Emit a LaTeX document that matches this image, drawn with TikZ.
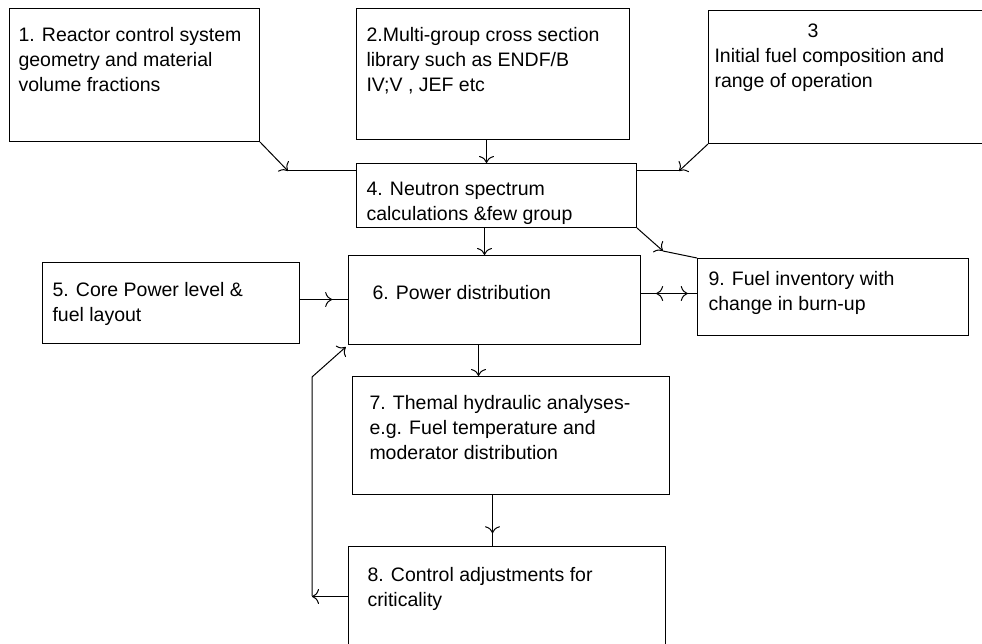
\documentclass[tikz,border=0pt]{standalone}
\usepackage{fontspec}
\setmainfont{Liberation Sans}
\usepackage{tikz}
\usetikzlibrary{arrows.meta,calc,positioning,decorations.markings}

\begin{document}
\begin{tikzpicture}[x=1pt,y=-1pt,line width=1pt,>={To[length=7pt,width=15pt]},
    blk/.style={draw,anchor=north west,inner sep=0pt},
    txt/.style={anchor=north west,inner sep=0pt,align=left,font=\fontsize{19.5}{25}\selectfont},
    midarr/.style={postaction={decorate},decoration={markings,mark=at position #1 with {\arrow{>}}}},
    twoarr/.style={postaction={decorate},decoration={markings,mark=at position 0.29 with {\arrow{<}},mark=at position 0.73 with {\arrow{>}}}}]
    \useasboundingbox (0,0) rectangle (982,644);

    \node[blk,minimum width=250pt,minimum height=133pt] (GEOM) at (9,8) {};
    \node[blk,minimum width=273pt,minimum height=131pt] (XSLIB) at (356,8) {};
    \node[blk,minimum width=276pt,minimum height=133pt] (FUEL) at (708,10) {};
    \node[blk,minimum width=280pt,minimum height=64pt] (SPEC) at (356,163) {};
    \node[blk,minimum width=257pt,minimum height=81pt] (CORE) at (42,262) {};
    \node[blk,minimum width=292pt,minimum height=89pt] (POWER) at (348,255) {};
    \node[blk,minimum width=271pt,minimum height=77pt] (INV) at (697,258) {};
    \node[blk,minimum width=317pt,minimum height=118pt] (THERM) at (352,376) {};
    \node[blk,minimum width=317pt,minimum height=100pt] (CTRL) at (348,546) {};

    \node[txt] (GEOMt) at (18,27) {1. Reactor control system\\geometry and material\\volume fractions};
    \node[txt] (XSLIBt) at (366,27) {2.Multi-group cross section\\library such as ENDF/B\\IV;V , JEF etc};
    \node[txt] (FUELt) at (714,23) {\hspace*{93pt}3\\Initial fuel composition and\\range of operation};
    \node[txt] (SPECt) at (366,182) {4. Neutron spectrum\\calculations \&few group};
    \node[txt] (COREt) at (52,282) {5. Core Power level \&\\fuel layout};
    \node[txt] (POWERt) at (372,285) {6. Power distribution};
    \node[txt] (INVt) at (708,271) {9. Fuel inventory with\\change in burn-up};
    \node[txt] (THERMt) at (369,395) {7. Themal hydraulic analyses-\\e.g. Fuel temperature and\\moderator distribution};
    \node[txt] (CTRLt) at (367,567) {8. Control adjustments for\\criticality};

    \coordinate (J1) at (288,171);
    \coordinate (J3) at (679,171);
    \coordinate (J9) at (663,251);
    \coordinate (FB1) at (312,596);
    \coordinate (FB2) at (312,377);

    \draw[->] (GEOM.south east) -- (J1);
    \draw (J1) -- (J1 -| SPEC.west);
    \draw[->] (FUEL.south west) -- (J3);
    \draw (J3) -- (J3 -| SPEC.east);
    \draw[->] ([xshift=-6.5pt]XSLIB.south) -- ([xshift=-6.5pt]XSLIB.south |- SPEC.north);
    \draw[->] ([xshift=-12pt]SPEC.south) -- ([xshift=-12pt]SPEC.south |- POWER.north);
    \draw[->] (SPEC.south east) -- (J9);
    \draw (J9) -- (INV.north west);
    \draw[midarr=0.67] ([yshift=3.5pt]CORE.east) -- ([yshift=3.5pt]CORE.east -| POWER.west);
    \draw[twoarr] ([yshift=3.5pt]INV.west) -- ([yshift=3.5pt]INV.west -| POWER.east);
    \draw[->] ([xshift=-16pt]POWER.south) -- ([xshift=-16pt]POWER.south |- THERM.north);
    \draw[midarr=0.75] ([xshift=-18.5pt]THERM.south) -- ([xshift=-18.5pt]THERM.south |- CTRL.north);
    \draw[->] (CTRL.west) -- (CTRL.west -| FB1);
    \draw[->,shorten >=3pt] (FB1) -- (FB2) -- (POWER.south west);
\end{tikzpicture}
\end{document}
